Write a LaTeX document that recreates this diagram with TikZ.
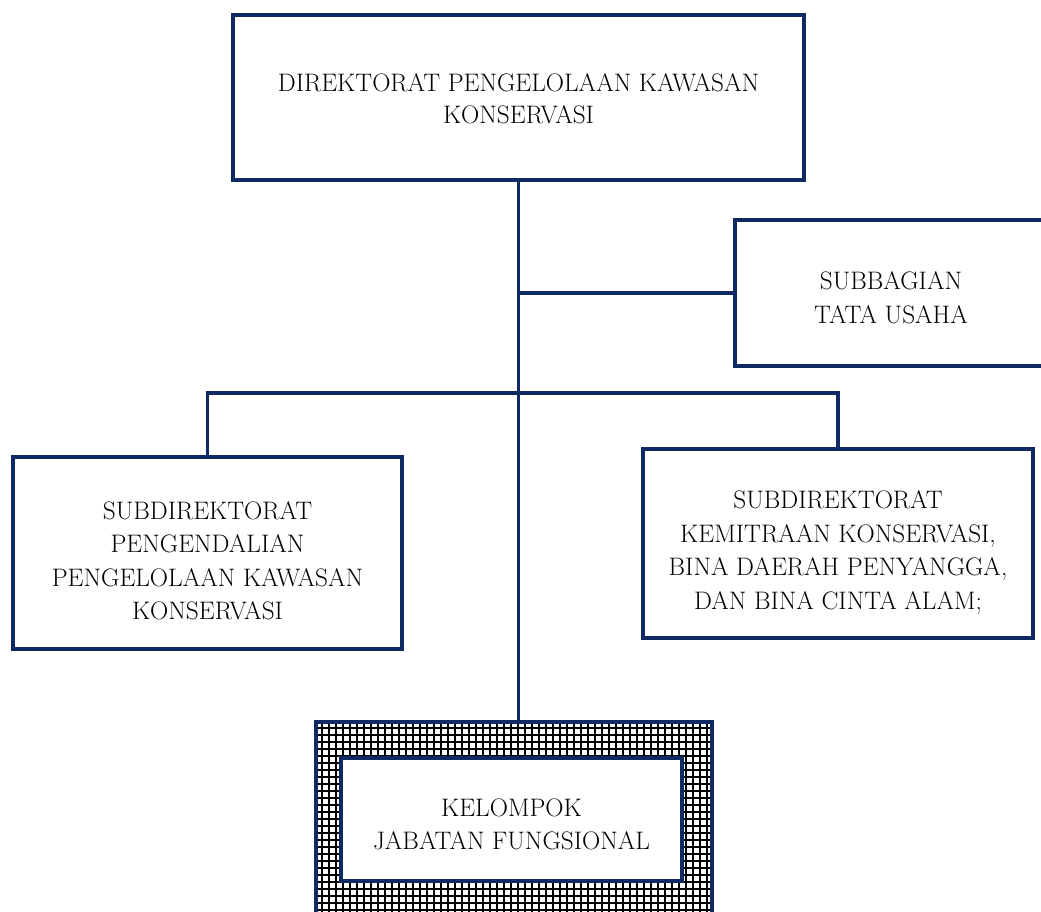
\documentclass[tikz,border=0pt]{standalone}
\usepackage{fontspec}
\begin{document}
\begin{tikzpicture}[x=1pt,y=-1pt,
  line join=miter,
  orgline/.style={draw=navy, line width=4pt},
  orgbox/.style={rectangle, orgline, fill=white, inner sep=0pt},
  orgtext/.style={align=center, inner sep=0pt, font=\fontsize{25.3}{33.5}\selectfont},
  link/.style={draw=navy, line width=3.5pt}]
\definecolor{navy}{HTML}{0F2A63}
\useasboundingbox (0,0) rectangle (1041,912);

% pattern frame around the functional group box
\begin{scope}
  \clip (316,722) rectangle (712,940);
  \fill[white] (316,722) rectangle (712,940);
  \draw[black, line width=1.9pt, step=7pt] (300,700) grid (730,950);
\end{scope}
\node[rectangle, orgline, minimum width=396pt, minimum height=218pt, inner sep=0pt]
  (outer) at (514,831) {};

% boxes
\node[orgbox, minimum width=571pt, minimum height=165pt] (dir) at (518.5,97.5) {};
\node[orgbox, minimum width=312pt, minimum height=146pt] (tu) at (891,293) {};
\node[orgbox, minimum width=389pt, minimum height=192pt] (sd1) at (207.5,553) {};
\node[orgbox, minimum width=390pt, minimum height=189pt] (sd2) at (838,543.5) {};
\node[orgbox, minimum width=341pt, minimum height=123pt] (jf) at (511.5,819.5) {};

% box titles
\node[orgtext] (dirT) at ([yshift=-1pt]dir.center)
  {DIREKTORAT PENGELOLAAN KAWASAN\\[-1.5pt]KONSERVASI};
\node[orgtext] (tuT) at ([yshift=-5pt]tu.center) {SUBBAGIAN\\TATA USAHA};
\node[orgtext] (sd1T) at ([yshift=-8pt]sd1.center)
  {SUBDIREKTORAT\\PENGENDALIAN\\PENGELOLAAN KAWASAN\\KONSERVASI};
\node[orgtext] (sd2T) at ([yshift=-9pt]sd2.center)
  {SUBDIREKTORAT\\KEMITRAAN KONSERVASI,\\BINA DAERAH PENYANGGA,\\DAN BINA CINTA ALAM;};
\node[orgtext] (jfT) at ([yshift=-5pt]jf.center) {KELOMPOK\\JABATAN FUNGSIONAL};

% connectors
\coordinate (bus) at (517,393);
\path[link] (dir.south) -- (dir.south |- outer.north);
\path[link] (dir.south |- tu.west) -- (tu.west);
\path[link] (sd1.north) -- (sd1.north |- bus) -| (sd2.north);
\end{tikzpicture}
\end{document}
